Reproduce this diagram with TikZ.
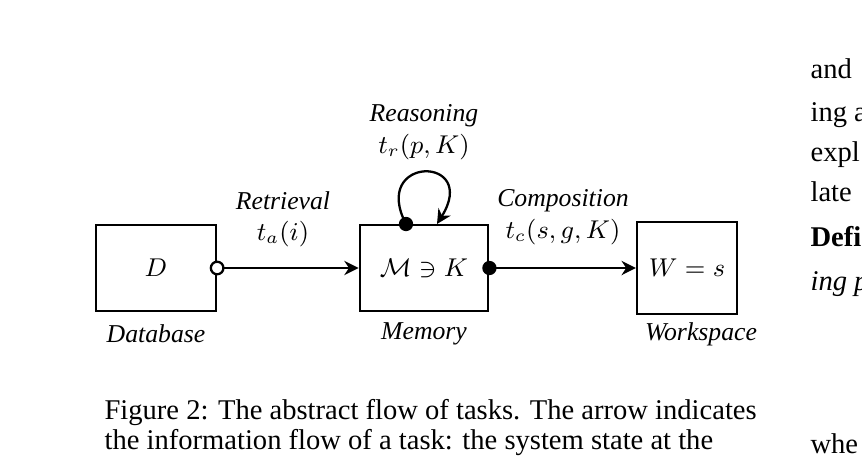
\documentclass[tikz,border=0pt]{standalone}
\usepackage{fontspec}
\setmainfont{Liberation Serif}
\usetikzlibrary{arrows.meta}
\begin{document}
\begin{tikzpicture}[x=0.35pt,y=-0.35pt,
    box/.style={draw,thick,minimum width=42pt,minimum height=30pt,inner sep=0pt,font=\small},
    lbl/.style={font=\itshape\small},
    mth/.style={font=\small},
    flow/.style={thick,-{Stealth[length=5pt,width=5pt]}},
    txt/.style={anchor=base west,inner sep=0pt}]
  \useasboundingbox (0,0) rectangle (862,456);
  % boxes
  \node[box] (db) at (156,268) {$D$};
  \node[box,minimum width=45pt] (mem) at (424,268) {$\mathcal{M}\ni K$};
  \node[box,minimum width=35pt,minimum height=32pt] (ws) at (687,268) {$W=s$};
  \node[lbl] (dbl) at (156,334) {Database};
  \node[lbl] (meml) at (424,334) {Memory};
  \node[lbl] (wsl) at (701,334) {Workspace};
  % retrieval
  \node[lbl] (ret) at (283,201) {Retrieval};
  \node[mth] (ta) at (283,234) {$t_a(i)$};
  \draw[flow] (db.east) -- (mem.west);
  \draw[thick,fill=white] (db.east) circle (2.2pt);
  % composition
  \node[lbl] (comp) at (563,201) {Composition};
  \node[mth] (tc) at (563,232) {$t_c(s,g,K)$};
  \draw[flow] (mem.east) -- (ws.west);
  \fill (mem.east) circle (2.5pt);
  % reasoning loop
  \node[lbl] (reas) at (424,116) {Reasoning};
  \node[mth] (tr) at (424,147) {$t_r(p,K)$};
  \coordinate (lpa) at (406,224);
  \coordinate (lpb) at (437,224);
  \draw[flow] (lpa) .. controls (370,155) and (480,155) .. (lpb);
  \fill (lpa) circle (2.5pt);
  % caption
  \node[txt] (cap1) at (104,419) {Figure 2: The abstract flow of tasks. The arrow indicates};
  \node[txt] (cap2) at (104,449) {the information flow of a task: the system state at the};
  % right column
  \node[txt] (r1) at (810,78) {and};
  \node[txt] (r2) at (810,121) {ing a};
  \node[txt] (r3) at (810,161) {expl};
  \node[txt] (r4) at (810,201) {late};
  \node[txt,font=\bfseries] (r5) at (810,246) {Defi};
  \node[txt,font=\itshape] (r6) at (810,290) {ing p};
  \node[txt] (r7) at (810,453) {whe};
\end{tikzpicture}
\end{document}
